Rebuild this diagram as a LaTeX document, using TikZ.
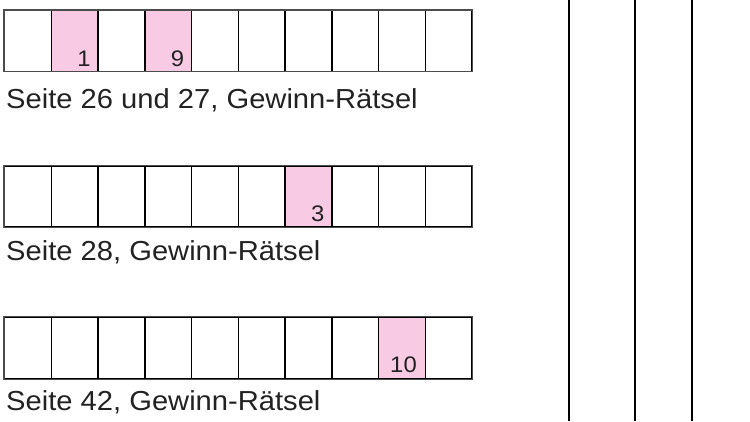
\documentclass[tikz,border=0pt]{standalone}
\usepackage{fontspec}
\setmainfont{Liberation Sans}[FakeStretch=1.06]
\definecolor{cellpink}{HTML}{F8CAE3}
\definecolor{txt}{HTML}{222222}
\begin{document}
\begin{tikzpicture}[x=1pt,y=-1pt,
  cell/.style={draw=black,line width=1.4pt,minimum width=46.73pt,minimum height=#1,inner sep=0pt,anchor=north west},
  pinkcell/.style={fill=cellpink},
  num/.style={font=\fontsize{22.5}{22.5}\selectfont,text=txt,anchor=base east,inner sep=0pt},
  caption/.style={font=\fontsize{27.5}{27.5}\selectfont,text=txt,anchor=base west,inner sep=0pt},
  frame/.style={draw=black!70,line width=1.1pt},
  bar/.style={draw=black,line width=2.2pt}]
\useasboundingbox (0,0) rectangle (750,421);
% row 1
\foreach \i in {1,...,10}{
  \ifnum\i=2 \def\st{pinkcell}\else\ifnum\i=4 \def\st{pinkcell}\else\def\st{}\fi\fi
  \node[cell=60.5pt,\st] (a\i) at ({4+(\i-1)*46.73},10) {};
}
\draw[frame] (a1.north west) rectangle (a10.south east);
\node[num] (na2) at ([xshift=-8pt,yshift=5pt]a2.south east) {1};
\node[num] (na4) at ([xshift=-8pt,yshift=5pt]a4.south east) {9};
\node[caption] (ca) at (6,108.3) {Seite 26 und 27, Gewinn-Rätsel};
% row 2
\foreach \i in {1,...,10}{
  \ifnum\i=7 \def\st{pinkcell}\else\def\st{}\fi
  \node[cell=60.5pt,\st] (b\i) at ({4+(\i-1)*46.73},165.7) {};
}
\draw[frame] (b1.north west) rectangle (b10.south east);
\node[num] (nb7) at ([xshift=-8pt,yshift=6pt]b7.south east) {3};
\node[caption] (cb) at (6,260) {Seite 28, Gewinn-Rätsel};
% row 3
\foreach \i in {1,...,10}{
  \ifnum\i=9 \def\st{pinkcell}\else\def\st{}\fi
  \node[cell=61pt,\st] (c\i) at ({4+(\i-1)*46.73},316.7) {};
}
\draw[frame] (c1.north west) rectangle (c10.south east);
\node[num] (nc9) at ([xshift=-9pt,yshift=7pt]c9.south east) {10};
\node[caption] (cc) at (6,410) {Seite 42, Gewinn-Rätsel};
% vertical bars
\coordinate (v1t) at (568.7,0); \coordinate (v1b) at (568.7,421);
\coordinate (v2t) at (634.7,0); \coordinate (v2b) at (634.7,421);
\coordinate (v3t) at (692.3,0); \coordinate (v3b) at (692.3,421);
\draw[bar] (v1t) -- (v1b);
\draw[bar] (v2t) -- (v2b);
\draw[bar] (v3t) -- (v3b);
\end{tikzpicture}
\end{document}
